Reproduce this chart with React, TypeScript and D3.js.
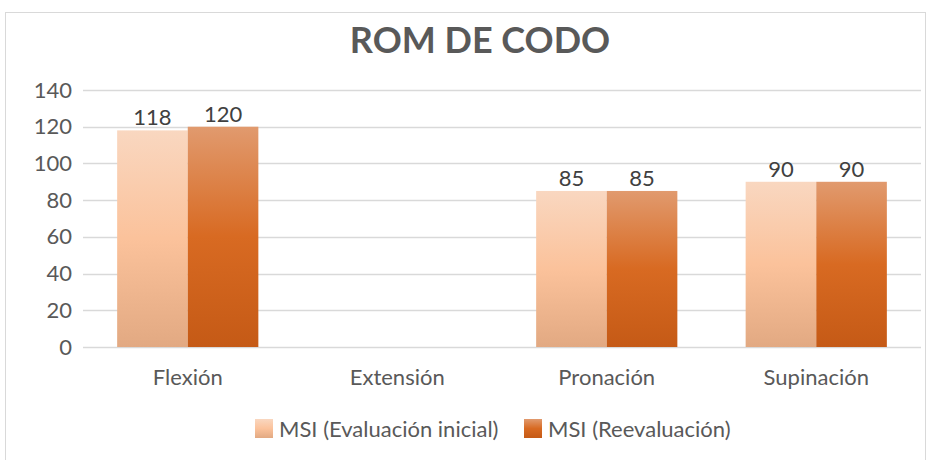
import React, { useEffect, useRef } from "react";
import * as d3 from "d3";

const categories = ["Flexión", "Extensión", "Pronación", "Supinación"];
const seriesNames = ["MSI (Evaluación inicial)", "MSI (Reevaluación)"];
const inicial = [118, null, 85, 90];
const reevaluacion = [120, null, 85, 90];
const yTicks = [0, 20, 40, 60, 80, 100, 120, 140];

const FONT = "Lato, 'Open Sans', sans-serif";
const TXT = "#595959";

const App = () => {
  const ref = useRef<SVGSVGElement>(null);

  useEffect(() => {
    const svg = d3.select(ref.current);
    svg.selectAll("*").remove();

    const left = 83, right = 921, top = 90, bottom = 347;

    const defs = svg.append("defs");
    const grads = [
      ["#f9d7c0", "#fbc29b", "#e2a982"],
      ["#e19a6e", "#d86a22", "#c55a16"],
    ];
    grads.forEach((g, i) => {
      const lg = defs.append("linearGradient").attr("id", "g" + i)
        .attr("x1", 0).attr("y1", 0).attr("x2", 0).attr("y2", 1);
      lg.append("stop").attr("offset", "0%").attr("stop-color", g[0]);
      lg.append("stop").attr("offset", "50%").attr("stop-color", g[1]);
      lg.append("stop").attr("offset", "100%").attr("stop-color", g[2]);
    });

    svg.append("rect").attr("x", 5.5).attr("y", 12.5).attr("width", 920).attr("height", 460)
      .attr("fill", "white").attr("stroke", "#d9d9d9");

    svg.append("text").attr("x", 480).attr("y", 53).attr("text-anchor", "middle")
      .attr("font-family", FONT).attr("font-weight", "bold").attr("font-size", 36)
      .attr("fill", TXT).text("ROM DE CODO");

    const x = d3.scaleBand().domain(categories).range([left, right]).paddingInner(0).paddingOuter(0);
    const y = d3.scaleLinear().domain([0, 140]).range([bottom, top]);

    const grid = svg.append("g");
    yTicks.forEach(t => {
      grid.append("line").attr("x1", left).attr("x2", right)
        .attr("y1", Math.round(y(t)) + 0.5).attr("y2", Math.round(y(t)) + 0.5)
        .attr("stroke", "#d9d9d9").attr("stroke-width", 1.5);
      grid.append("text").attr("x", 72).attr("y", y(t) + 7.5).attr("text-anchor", "end")
        .attr("font-family", FONT).attr("font-size", 22).attr("fill", TXT).text(t);
    });

    const bw = x.bandwidth() * 0.337;
    const series = [inicial, reevaluacion];
    series.forEach((vals, si) => {
      categories.forEach((c, ci) => {
        const v = vals[ci];
        if (v == null) return;
        const cx = x(c)! + x.bandwidth() / 2;
        const bx = si === 0 ? cx - bw : cx;
        svg.append("rect").attr("x", bx).attr("y", y(v)).attr("width", bw)
          .attr("height", bottom - y(v)).attr("fill", `url(#g${si})`);
        svg.append("text").attr("x", bx + bw / 2).attr("y", y(v) - 5).attr("text-anchor", "middle")
          .attr("font-family", FONT).attr("font-size", 22).attr("fill", "#404040").text(v);
      });
    });

    categories.forEach(c => {
      svg.append("text").attr("x", x(c)! + x.bandwidth() / 2).attr("y", 385)
        .attr("text-anchor", "middle").attr("font-family", FONT).attr("font-size", 22)
        .attr("fill", TXT).text(c);
    });

    const legX = [255, 524];
    seriesNames.forEach((n, i) => {
      svg.append("rect").attr("x", legX[i]).attr("y", 419).attr("width", 18).attr("height", 19)
        .attr("fill", `url(#g${i})`);
      svg.append("text").attr("x", legX[i] + 24).attr("y", 437)
        .attr("font-family", FONT).attr("font-size", 22).attr("fill", TXT).text(n);
    });
  }, []);

  return <svg ref={ref} width={932} height={460} style={{ position: "absolute", left: 0, top: 0 }} />;
};

export default App;
